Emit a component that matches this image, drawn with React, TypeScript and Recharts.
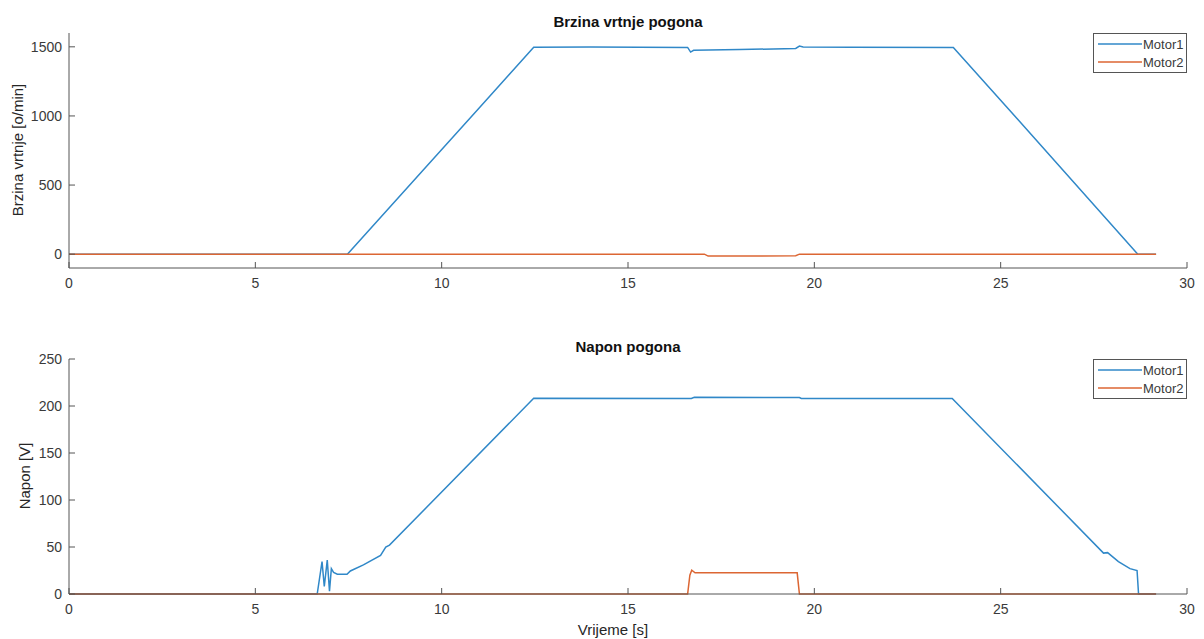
import React from 'react';
import { LineChart, Line, XAxis, YAxis, Legend } from 'recharts';

const FONT = '"Liberation Sans", Arial, Helvetica, sans-serif';
const BLUE = '#3088c8';
const ORANGE = '#dc6633';
const AXIS = '#555555';
const TEXT = '#3a3a3a';

// axis ticks
const timeTicks = [0, 5, 10, 15, 20, 25, 30];
const speedTicks = [0, 500, 1000, 1500];
const voltageTicks = [0, 50, 100, 150, 200, 250];

// [t (s), value] pairs
const speedMotor1 = [
  [0, 0], [7.47, 0], [9.5, 607], [11, 1055], [12.47, 1497], [14, 1498], [16.6, 1496],
  [16.68, 1462], [16.76, 1475], [18, 1480], [19.5, 1488], [19.6, 1505], [19.7, 1498],
  [21, 1497], [23.73, 1496], [26, 812], [28.68, 0], [29.17, 0],
];
const speedMotor2 = [
  [0, 0], [17.05, 0], [17.15, -14], [18.5, -13], [19.5, -11], [19.6, 0], [29.17, 0],
];
const voltageMotor1 = [
  [0, 0], [6.66, 0], [6.79, 34.5], [6.85, 8], [6.93, 36], [6.99, 3], [7.04, 27],
  [7.1, 23], [7.2, 21], [7.46, 21], [7.55, 24.5], [7.9, 31], [8.36, 41], [8.5, 50],
  [8.6, 52], [12.47, 208.2], [16.7, 208], [16.78, 209.3], [19.6, 209], [19.65, 208],
  [23.7, 208], [27.76, 43.5], [27.87, 44], [28.16, 34.5], [28.47, 27], [28.66, 25],
  [28.7, 0], [29.17, 0],
];
const voltageMotor2 = [
  [0, 0], [16.6, 0], [16.66, 20], [16.71, 25.3], [16.8, 22.5], [19.54, 22.5],
  [19.6, 0], [29.17, 0],
];

const legendItems = [
  { name: 'Motor1', color: BLUE },
  { name: 'Motor2', color: ORANGE },
];

const toPoints = (pairs: number[][]) => pairs.map(([t, v]) => ({ t, v }));

const BottomTick = ({ x, y, payload }: any) => (
  <g>
    <line x1={x} y1={y} x2={x} y2={y - 6} stroke={AXIS} />
    <text x={x} y={y + 15} dy="0.35em" textAnchor="middle" fontSize={14} fill={TEXT} fontFamily={FONT}>
      {payload.value}
    </text>
  </g>
);

const LeftTick = ({ x, y, payload }: any) => (
  <g>
    <line x1={x} y1={y} x2={x + 6} y2={y} stroke={AXIS} />
    <text x={x - 7} y={y} dy="0.35em" textAnchor="end" fontSize={14} fill={TEXT} fontFamily={FONT}>
      {payload.value}
    </text>
  </g>
);

const TopTick = ({ x, y }: any) => <line x1={x} y1={y} x2={x} y2={y + 6} stroke={AXIS} />;
const RightTick = ({ x, y }: any) => <line x1={x} y1={y} x2={x - 6} y2={y} stroke={AXIS} />;

const LegendBox = () => (
  <div style={{ border: `1px solid ${AXIS}`, background: '#fff', width: 92, padding: '1px 0', fontFamily: FONT, fontSize: 13, color: TEXT }}>
    {legendItems.map((it) => (
      <div key={it.name} style={{ display: 'flex', alignItems: 'center', height: 18 }}>
        <svg width={49} height={10}>
          <line x1={4} y1={5} x2={48} y2={5} stroke={it.color} strokeWidth={1.5} />
        </svg>
        <span>{it.name}</span>
      </div>
    ))}
  </div>
);

const Panel = ({ yDomain, yTicks, m1, m2 }: any) => (
  <LineChart width={1204} height={300} margin={{ top: 33, right: 17, bottom: 0, left: 9 }}>
    {/* axes first so the series are painted over the axis lines, as in MATLAB */}
    <XAxis dataKey="t" type="number" domain={[0, 30]} ticks={timeTicks} interval={0}
      axisLine={{ stroke: AXIS }} tickLine={false} tickSize={0} tickMargin={0} height={32}
      tick={(p: any) => <BottomTick {...p} />} />
    <XAxis xAxisId="top" orientation="top" dataKey="t" type="number" domain={[0, 30]} ticks={timeTicks}
      interval={0} axisLine={{ stroke: AXIS }} tickLine={false} tickSize={0} tickMargin={0} height={0}
      tick={(p: any) => <TopTick {...p} />} />
    <YAxis type="number" domain={yDomain} ticks={yTicks} interval={0}
      axisLine={{ stroke: AXIS }} tickLine={false} tickSize={0} tickMargin={0} width={60}
      tick={(p: any) => <LeftTick {...p} />} />
    <YAxis yAxisId="right" orientation="right" type="number" domain={yDomain} ticks={yTicks} interval={0}
      axisLine={{ stroke: AXIS }} tickLine={false} tickSize={0} tickMargin={0} width={0}
      tick={(p: any) => <RightTick {...p} />} />
    <Line data={toPoints(m1)} dataKey="v" name="Motor1" stroke={BLUE} strokeWidth={1.5} dot={false}
      type="linear" isAnimationActive={false} />
    <Line data={toPoints(m2)} dataKey="v" name="Motor2" stroke={ORANGE} strokeWidth={1.5} dot={false}
      type="linear" isAnimationActive={false} />
    <Legend layout="vertical" align="center" verticalAlign="middle" content={() => <LegendBox />}
      wrapperStyle={{ left: 1093, top: 33, width: 94, height: 'auto' }} />
  </LineChart>
);

const label = (extra: React.CSSProperties): React.CSSProperties => ({
  position: 'absolute', fontFamily: FONT, fontSize: 15, color: '#262626', lineHeight: '18px',
  textAlign: 'center', whiteSpace: 'nowrap', ...extra,
});

export default function App() {
  return (
    <div style={{ position: 'absolute', left: 0, top: 0, width: 1204, height: 639, background: '#fff', overflow: 'hidden' }}>
      <div style={{ position: 'absolute', left: 0, top: 0 }}>
        <Panel yDomain={[-100, 1600]} yTicks={speedTicks} m1={speedMotor1} m2={speedMotor2} />
      </div>
      <div style={{ position: 'absolute', left: 0, top: 326 }}>
        <Panel yDomain={[0, 250]} yTicks={voltageTicks} m1={voltageMotor1} m2={voltageMotor2} />
      </div>
      <div style={label({ left: 428, top: 13, width: 400, fontWeight: 'bold', color: '#111' })}>Brzina vrtnje pogona</div>
      <div style={label({ left: 428, top: 338, width: 400, fontWeight: 'bold', color: '#111' })}>Napon pogona</div>
      <div style={label({ left: -82, top: 141, width: 200, transform: 'rotate(-90deg)' })}>Brzina vrtnje [o/min]</div>
      <div style={label({ left: -75, top: 467, width: 200, transform: 'rotate(-90deg)' })}>Napon [V]</div>
      <div style={label({ left: 513, top: 621, width: 200 })}>Vrijeme [s]</div>
    </div>
  );
}
